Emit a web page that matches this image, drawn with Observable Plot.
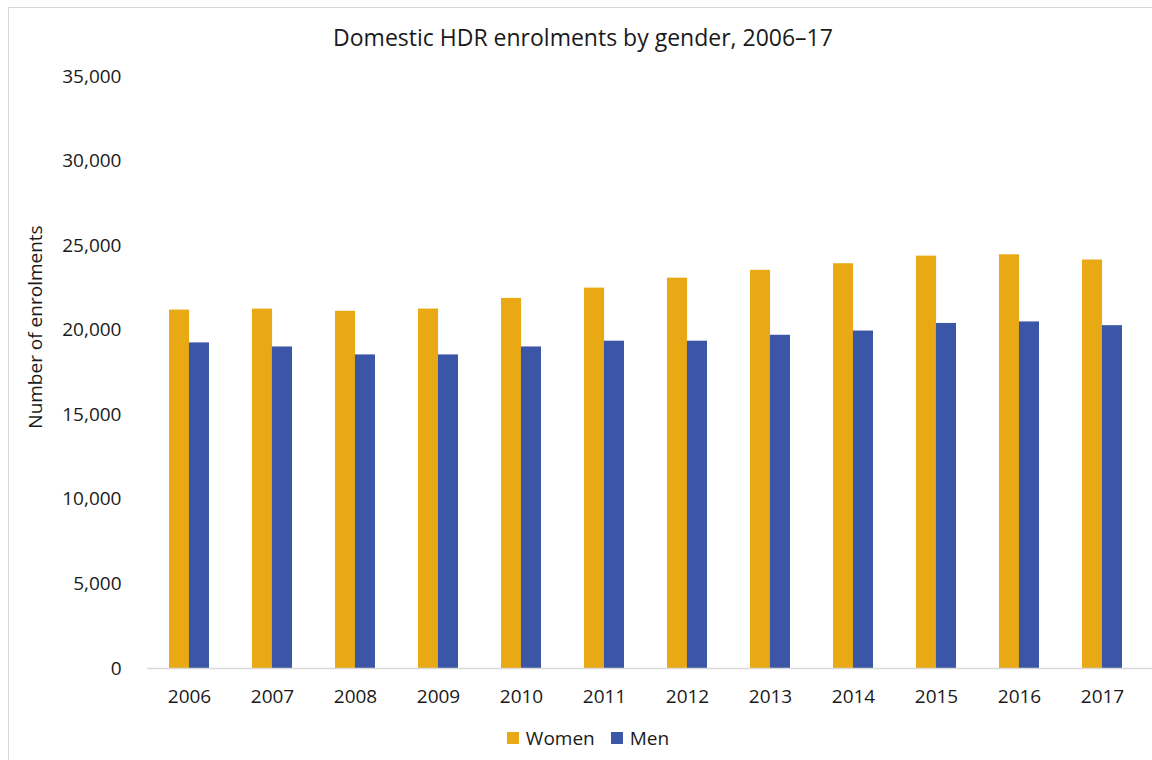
<!DOCTYPE html>
<html>
<head>
<meta charset="utf-8">
<script src="https://cdn.jsdelivr.net/npm/d3@7"></script>
<script src="https://cdn.jsdelivr.net/npm/@observablehq/plot@0.6"></script>
<style>
  body { margin: 0; background: #fff; }
  #wrap { position: relative; width: 1152px; height: 760px; overflow: hidden; font-family: "Open Sans", sans-serif; color: #1a1a1a; }
  #border { position: absolute; left: 8px; top: 7px; width: 1300px; height: 900px; border: 1.5px solid #d9d9d9; box-sizing: border-box; }
  #title { position: absolute; left: 283px; width: 600px; top: 21px; text-align: center; font-size: 23px; line-height: 32px; }
  #ylabel { position: absolute; left: 35px; top: 327px; transform: translate(-50%, -50%) rotate(-90deg); white-space: nowrap; font-size: 19px; }
  #legend { position: absolute; top: 725px; left: 0; width: 1152px; display: flex; justify-content: center; font-size: 19px; line-height: 26px; padding-left: 24px; box-sizing: border-box; }
  .item { display: flex; align-items: center; margin: 0 8px; }
  .sw { width: 12px; height: 12px; margin-right: 7px; display: inline-block; }
  #chart { position: absolute; left: 0; top: 0; }
</style>
</head>
<body>
<div id="wrap">
  <div id="border"></div>
  <div id="chart"></div>
  <div id="title"></div>
  <div id="ylabel"></div>
  <div id="legend"></div>
</div>
<script>
const titleText = "Domestic HDR enrolments by gender, 2006–17";
const yLabel = "Number of enrolments";
const years = ["2006","2007","2008","2009","2010","2011","2012","2013","2014","2015","2016","2017"];
const women = [21190, 21250, 21120, 21250, 21880, 22490, 23080, 23540, 23930, 24380, 24460, 24150];
const men = [19250, 19010, 18540, 18540, 19010, 19350, 19350, 19700, 19950, 20400, 20490, 20270];
const seriesNames = ["Women", "Men"];
const seriesColors = ["#E9A915", "#3B56A6"];
const yTicks = [0, 5000, 10000, 15000, 20000, 25000, 30000, 35000];

const rows = years.map((y, i) => ({year: y, women: women[i], men: men[i]}));

const W = 1152, H = 760, mL = 147, mR = 8, mT = 76, mB = 92;
const padIn = 0.52, padOut = 0.26;
const step = (W - mL - mR) / (years.length - padIn + 2 * padOut);
const half = step * (1 - padIn) / 2;

const chart = Plot.plot({
  width: W, height: H,
  marginTop: mT, marginBottom: mB, marginLeft: mL, marginRight: mR,
  style: {fontFamily: "'Open Sans', sans-serif", fontSize: "19px", color: "#1a1a1a", background: "transparent"},
  x: {domain: years, paddingInner: padIn, paddingOuter: padOut, label: null, tickSize: 0, tickPadding: 21},
  y: {domain: [0, 35000], ticks: yTicks, tickSize: 0, tickPadding: 26, label: null, tickFormat: d3.format(",")},
  marks: [
    Plot.barY(rows, {x: "year", y: "women", fill: seriesColors[0], insetLeft: 0, insetRight: half}),
    Plot.barY(rows, {x: "year", y: "men", fill: seriesColors[1], insetLeft: half, insetRight: 0}),
    Plot.ruleY([0], {stroke: "#d9d9d9", strokeWidth: 1.5, insetRight: -mR})
  ]
});
document.getElementById("chart").appendChild(chart);
document.getElementById("title").textContent = titleText;
document.getElementById("ylabel").textContent = yLabel;
const legend = document.getElementById("legend");
seriesNames.forEach((n, i) => {
  const it = document.createElement("span");
  it.className = "item";
  const sw = document.createElement("span");
  sw.className = "sw";
  sw.style.background = seriesColors[i];
  it.appendChild(sw);
  it.appendChild(document.createTextNode(n));
  legend.appendChild(it);
});
</script>
</body>
</html>
